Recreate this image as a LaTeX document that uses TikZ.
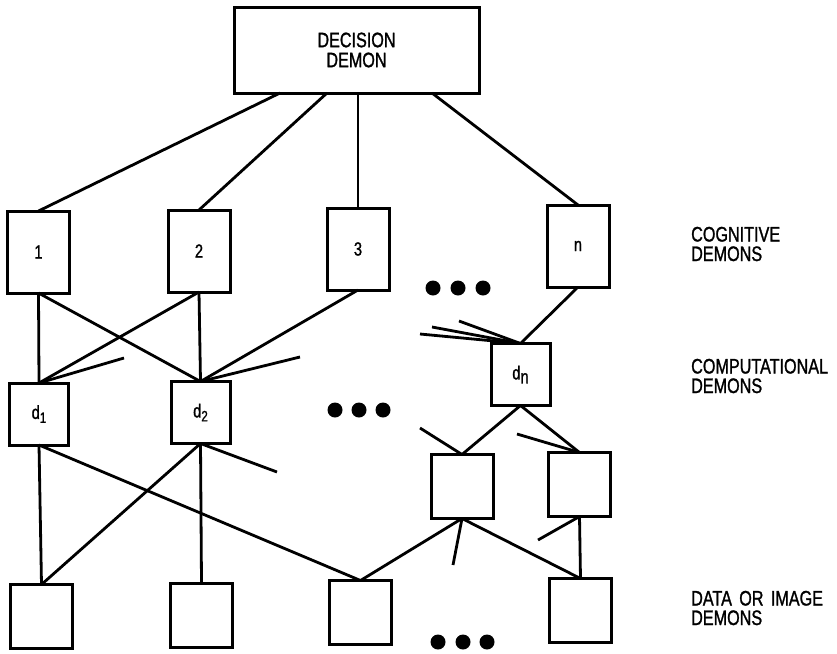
\documentclass[tikz,border=0pt]{standalone}
\usepackage{fontspec}
\newfontfamily\lbl[FakeStretch=0.77,FakeBold=1.2]{Liberation Sans}
\begin{document}
\begin{tikzpicture}[x=1pt,y=-1pt,
  demon/.style={draw, line width=3pt, outer sep=0pt, inner sep=0pt,
                font=\lbl\fontsize{19}{19}\selectfont},
  cog/.style={demon, minimum width=62pt, minimum height=82pt},
  comp/.style={demon, minimum width=59pt, minimum height=62pt},
  dat/.style={demon, minimum width=62pt, minimum height=64pt},
  link/.style={line width=2.8pt},
  tag/.style={anchor=base west, align=left, inner sep=0pt,
              font=\lbl\fontsize{21}{19.5}\selectfont},
  dot/.style={fill=black}]
\useasboundingbox (0,0) rectangle (837,653);

% subscripted demon names
\newcommand{\dsub}[1]{d\raisebox{-4pt}{\fontsize{15}{15}\selectfont #1}}

% decision demon
\node[demon, minimum width=245pt, minimum height=86pt, align=center,
      font=\lbl\fontsize{21}{20}\selectfont] (dec) at (356.5,50) {DECISION\\DEMON};

% cognitive demons
\node[cog] (c1) at (38.5,252) {1};
\node[cog] (c2) at (199,251) {2};
\node[cog] (c3) at (358,249) {3};
\node[cog] (cn) at (578,246) {n};

% computational demons
\node[comp] (d1) at (39,414) {\dsub{1}};
\node[comp] (d2) at (200.5,412.5) {\dsub{2}};
\node[comp] (dn) at (520.5,374.5) {d\raisebox{-4pt}{\fontsize{19}{19}\selectfont n}};

% data or image demons
\node[dat] (pA) at (41.5,616.5) {};
\node[dat] (pB) at (201.5,615) {};
\node[dat] (pC) at (360.5,612.5) {};
\node[dat] (pD) at (462,486.5) {};
\node[dat] (pE) at (579.5,484.5) {};
\node[dat] (pF) at (580.5,610.5) {};

% free ends of the partial links
\coordinate (s1) at (124,358);
\coordinate (s2) at (300,357);
\coordinate (s3) at (420,334);
\coordinate (s4) at (432,327);
\coordinate (s5) at (459,321);
\coordinate (s6) at (277,472);
\coordinate (s7) at (420,428);
\coordinate (s8) at (517,434);
\coordinate (s9) at (453,565);
\coordinate (s10) at (538,540);

% decision level
\draw[link] ([xshift=-76.5pt]dec.south) -- (c1.north);
\draw[link] ([xshift=-29.5pt]dec.south) -- (c2.north);
\draw[link] ([xshift=1.5pt]dec.south) -- (c3.north);
\draw[link] ([xshift=75.5pt]dec.south) -- (cn.north);

% cognitive to computational
\draw[link] (c1.south) -- (d1.north);
\draw[link] (c1.south) -- (d2.north);
\draw[link] (c2.south) -- (d1.north);
\draw[link] (c2.south) -- (d2.north);
\draw[link] (c3.south) -- (d2.north);
\draw[link] (cn.south) -- (dn.north);
\draw[link] (s1) -- (d1.north);
\draw[link] (s2) -- (d2.north);
\draw[link] (s3) -- (dn.north);
\draw[link] (s4) -- (dn.north);
\draw[link] (s5) -- (dn.north);

% computational to data
\draw[link] (d1.south) -- (pA.north);
\draw[link] (d1.south) -- (pC.north);
\draw[link] (d2.south) -- (pA.north);
\draw[link] (d2.south) -- (pB.north);
\draw[link] (d2.south) -- (s6);
\draw[link] (dn.south) -- (pD.north);
\draw[link] (dn.south) -- (pE.north);
\draw[link] (s7) -- (pD.north);
\draw[link] (s8) -- (pE.north);
\draw[link] (pD.south) -- (pC.north);
\draw[link] (pD.south) -- (pF.north);
\draw[link] (pD.south) -- (s9);
\draw[link] (pE.south) -- (pF.north);
\draw[link] (pE.south) -- (s10);

% ellipses
\foreach \x in {433,458,483} \fill[dot] (\x,288) circle (7.5);
\foreach \x in {335,359,383} \fill[dot] (\x,410) circle (7.5);
\foreach \x in {438,463,487} \fill[dot] (\x,642) circle (7.5);

% level names (anchored on the baseline of the second line)
\node[tag] (tcog) at (691,261) {COGNITIVE\\DEMONS};
\node[tag] (tcomp) at (691,393) {COMPUTATIONAL\\DEMONS};
\node[tag] (tdata) at (691,625) {DATA\hspace{0.35em}OR\hspace{0.35em}IMAGE\\DEMONS};
\end{tikzpicture}
\end{document}
